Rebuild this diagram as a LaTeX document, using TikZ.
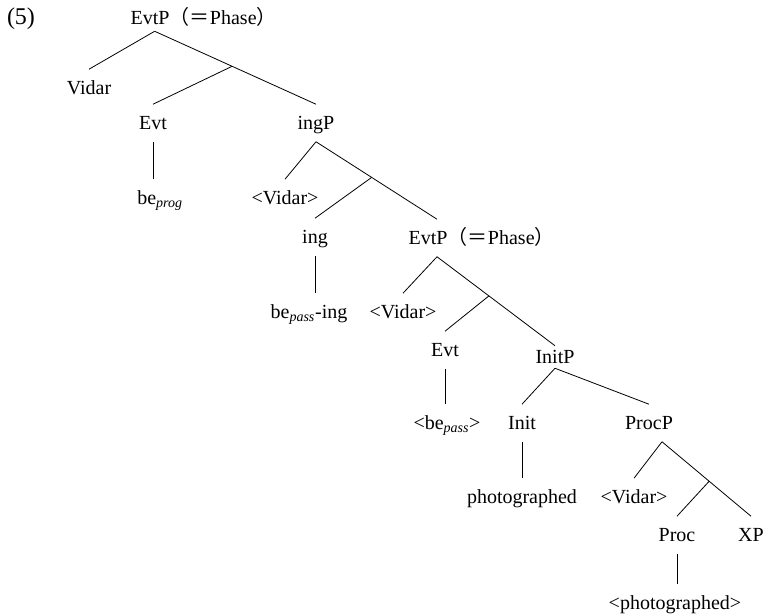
\documentclass[tikz,border=0pt]{standalone}
\usepackage{fontspec}
\setmainfont{Liberation Serif}
\newfontfamily\cjk{Noto Sans CJK SC}
\usetikzlibrary{positioning}

\begin{document}
\begin{tikzpicture}[
    x=0.75pt, y=-0.75pt,
    font=\fontsize{15}{18}\selectfont,
    cat/.style    = {inner sep=0pt, text height=10pt, text depth=0pt, minimum height=27.75pt},
    phase/.style  = {inner sep=0pt, text height=10pt, text depth=0pt},
    branch/.style = {draw, line width=0.6pt},
  ]
  \useasboundingbox (0,0) rectangle (765,616);
  \node[inner sep=0pt, font=\fontsize{18}{20}\selectfont] (ex) at (21,19) {(5)};
  % top EvtP
  \node[cat, minimum height=19.5pt] (root) at (150,18) {EvtP};
  \node[phase, right=0pt of root] (rootphase) {\cjk（＝\rmfamily Phase\cjk）};
  \node[cat] (vidarA) at (89,88) {Vidar};
  \node[cat] (evtA) at (153,123) {Evt};
  \node[cat] (beprog) at (160,198) {be\textsubscript{\textit{prog}}};
  \node[cat] (ingP) at (316,123) {ingP};
  \node[cat] (vidarB) at (285,198) {<Vidar>};
  \node[cat] (ing) at (315,237) {ing};
  \node[cat] (bepassing) at (309,312) {be\textsubscript{\textit{pass}}-ing};
  % lower EvtP
  \node[cat] (evtP) at (428,238) {EvtP};
  \node[phase, right=0pt of evtP] (evtPphase) {\cjk（＝\rmfamily Phase\cjk）};
  \node[cat] (vidarC) at (403,312) {<Vidar>};
  \node[cat] (evtB) at (445,350) {Evt};
  \node[cat] (bepass) at (447,423) {<be\textsubscript{\textit{pass}}>};
  \node[cat, minimum height=16.5pt] (initP) at (555,357) {InitP};
  \node[cat] (init) at (522,423) {Init};
  \node[cat] (photo) at (522,497) {photographed};
  \node[cat] (procP) at (649,423) {ProcP};
  \node[cat] (vidarD) at (634,497) {<Vidar>};
  \node[cat] (proc) at (677,535) {Proc};
  \node[cat] (xp) at (751,535) {XP};
  \node[cat] (photoB) at (675,603) {<photographed>};

  \draw[branch] ([xshift=3.5pt]root.south) -- (vidarA.north);
  \draw[branch] ([xshift=3.5pt]root.south) -- coordinate[pos=.48] (rootbar) (ingP.north);
  \draw[branch] (rootbar) -- (evtA.north);
  \draw[branch] (evtA.south) -- (evtA.south |- beprog.north);
  \draw[branch] (ingP.south) -- (vidarB.north);
  \draw[branch] (ingP.south) -- coordinate[pos=.46] (ingbar) ([xshift=6.75pt]evtP.north);
  \draw[branch] (ingbar) -- (ing.north);
  \draw[branch] (ing.south) -- (ing.south |- bepassing.north);
  \draw[branch] ([xshift=6.75pt]evtP.south) -- (vidarC.north);
  \draw[branch] ([xshift=6.75pt]evtP.south) -- coordinate[pos=.44] (evtbar) (initP.north);
  \draw[branch] (evtbar) -- (evtB.north);
  \draw[branch] (evtB.south) -- (evtB.south |- bepass.north);
  \draw[branch] (initP.south) -- (init.north);
  \draw[branch] (initP.south) -- (procP.north);
  \draw[branch] (init.south) -- (init.south |- photo.north);
  \draw[branch] ([xshift=9.75pt]procP.south) -- (vidarD.north);
  \draw[branch] ([xshift=9.75pt]procP.south) -- coordinate[pos=.53] (procbar) (xp.north);
  \draw[branch] (procbar) -- (proc.north);
  \draw[branch] (proc.south) -- (proc.south |- photoB.north);
\end{tikzpicture}
\end{document}
